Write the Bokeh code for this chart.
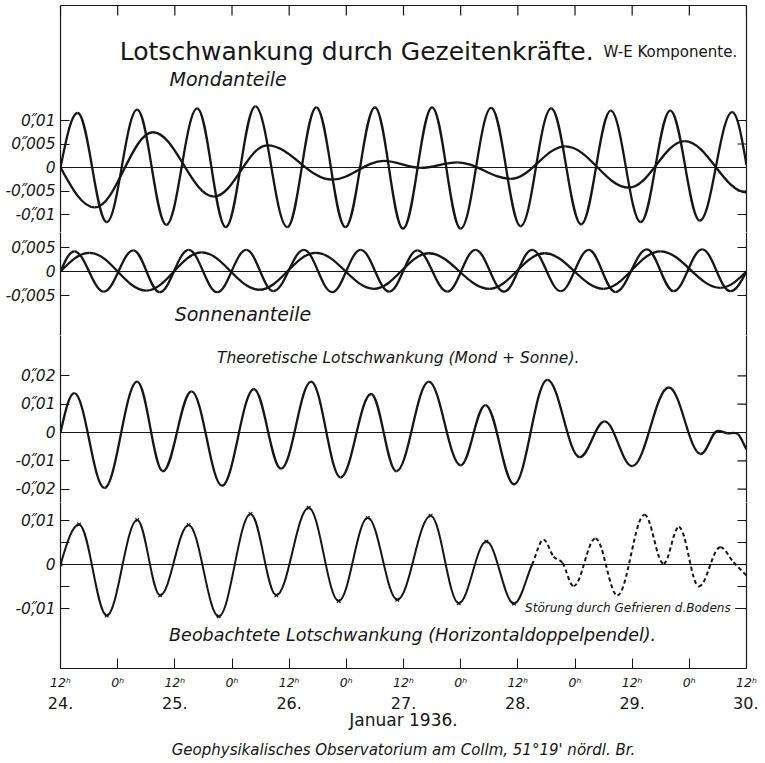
import numpy as np
from bokeh.plotting import figure
from bokeh.layouts import column
from bokeh.models import Range1d, LinearAxis, FixedTicker, Span, Label, Title, ColumnDataSource
from bokeh.embed import file_html
from bokeh.resources import INLINE

# ---------------- data (x = hours after 24 Jan 1936, 12h; values in arc seconds) ----------------
# Mondanteile: semidiurnal and diurnal lunar parts (extrema)
moon_sd_h = [0, 3.6, 9.7, 16.1, 22.2, 28.7, 34.7, 40.9, 47.6, 53.7, 59.8, 66.0, 71.9, 78.0, 84.0,
             90.4, 96.6, 103.0, 109.3, 115.5, 121.8, 128.0, 134.2, 141.0, 144.0]
moon_sd_v = [0.0, 0.0116, -0.0116, 0.0123, -0.0122, 0.0126, -0.0127, 0.0130, -0.0127, 0.0128, -0.0127,
             0.0128, -0.0130, 0.0128, -0.0130, 0.0127, -0.0125, 0.0126, -0.0121, 0.0121, -0.0116,
             0.0121, -0.0113, 0.0118, 0.0005]
moon_d_h = [0, 7.2, 19.4, 32.2, 43.4, 57.0, 67.9, 75.6, 83.3, 94.5, 106.0, 119.3, 131.0, 144.0]
moon_d_v = [0.0, -0.0085, 0.0075, -0.0062, 0.0047, -0.0026, 0.0014, -0.0001, 0.0011, -0.0024,
            0.0045, -0.0043, 0.0056, -0.0053]

# Sonnenanteile: semidiurnal and diurnal solar parts
sun_sd_h = [0, 2.9, 9.1, 15.3, 20.8, 26.9, 32.9, 39.0, 44.7, 51.1, 57.0, 63.0, 69.0, 74.9, 81.2,
            87.1, 93.1, 99.0, 105.0, 110.9, 116.5, 123.1, 128.7, 134.7, 140.6, 144.0]
sun_sd_v = [0.0, 0.0042, -0.0042, 0.0044, -0.0043, 0.0045, -0.0043, 0.0045, -0.0041, 0.0045, -0.0043,
            0.0045, -0.0042, 0.0044, -0.0042, 0.0045, -0.0042, 0.0045, -0.0041, 0.0045, -0.0043,
            0.0046, -0.0041, 0.0046, -0.0041, 0.0]
sun_d_h = [0, 6.1, 18.0, 29.6, 41.7, 53.6, 65.8, 77.3, 90.0, 101.6, 114.0, 125.9, 138.5, 144.0]
sun_d_v = [0.0, 0.0039, -0.0040, 0.0040, -0.0038, 0.0039, -0.0036, 0.0038, -0.0036, 0.0038,
           -0.0036, 0.0042, -0.0034, 0.0]

# Theoretische Lotschwankung (Mond + Sonne)
theo_h = [0, 2.9, 9.2, 16.1, 21.5, 27.5, 33.9, 40.6, 46.3, 52.6, 58.8, 65.2, 70.5, 77.3, 84.0,
          89.2, 95.2, 102.2, 109.0, 114.2, 120.0, 127.7, 134.4, 138.0, 140.0, 142.2, 144.0]
theo_v = [0.0, 0.0139, -0.0196, 0.0180, -0.0137, 0.0145, -0.0188, 0.0153, -0.0128, 0.0180, -0.0159,
          0.0136, -0.0137, 0.0180, -0.0116, 0.0097, -0.0183, 0.0186, -0.0087, 0.0039, -0.0119,
          0.0159, -0.0076, 0.0006, -0.0003, -0.0006, -0.0060]

# Beobachtete Lotschwankung (Horizontaldoppelpendel); dashed after obs_split (ground frost)
obs_h = [0, 3.9, 9.7, 16.1, 20.9, 26.9, 33.2, 39.9, 45.3, 52.1, 58.4, 64.5, 70.7, 77.7, 83.6, 89.4,
         95.2, 99.0, 101.4, 103.5, 105.4, 107.7, 112.3, 116.9, 122.6, 126.6, 129.8, 134.0, 138.5,
         141.3, 144.0]
obs_v = [0.0, 0.0091, -0.0116, 0.0101, -0.0070, 0.0090, -0.0118, 0.0115, -0.0070, 0.0129, -0.0083,
         0.0106, -0.0080, 0.0111, -0.0088, 0.0052, -0.0089, 0.0, 0.0056, 0.0018, 0.0003, -0.0049,
         0.0059, -0.0070, 0.0113, 0.0002, 0.0085, -0.0050, 0.0039, 0.0005, -0.0025]
obs_split = 99.0

# axes
hour_ticks = [0, 12, 24, 36, 48, 60, 72, 84, 96, 108, 120, 132, 144]
hour_labels = ["12ʰ", "0ʰ", "12ʰ", "0ʰ", "12ʰ", "0ʰ", "12ʰ", "0ʰ", "12ʰ", "0ʰ", "12ʰ", "0ʰ", "12ʰ"]
date_ticks = [0, 24, 48, 72, 96, 120, 144]
date_labels = ["24.", "25.", "26.", "27.", "28.", "29.", "30."]

p1_ticks = [0.01, 0.005, 0.0, -0.005, -0.01]
p1_labels = ["0,\u030b01", "0,\u030b005", "0", "-0,\u030b005", "-0,\u030b01"]
p2_ticks = [0.005, 0.0, -0.005]
p2_labels = ["0,\u030b005", "0", "-0,\u030b005"]
p3_ticks = [0.02, 0.01, 0.0, -0.01, -0.02]
p3_labels = ["0,\u030b02", "0,\u030b01", "0", "-0,\u030b01", "-0,\u030b02"]
p4_ticks = [0.01, 0.005, 0.0, -0.005, -0.01]
p4_label_ticks = [0.01, 0.0, -0.01]
p4_labels = ["0,\u030b01", "0", "-0,\u030b01"]

# ---------------- style / layout ----------------
FONT = "DejaVu Sans"
INK = "#161616"
FRAME_W = 686
ML, MR = 60, 12
PX_PER_H = FRAME_W / 144.0
TICK_PX = 9

# panel geometry (page px): top, bottom, zero line, px per unit
GEOM = {
    1: (5, 232, 167, 4700.0),
    2: (232, 335, 271, 4800.0),
    3: (335, 502, 432, 2830.0),
    4: (502, 668, 564, 4400.0),
}


def segments(xs, ys):
    """Cubic Bezier pieces through the read points (horizontal tangents at extrema)."""
    x = np.asarray(xs, float)
    y = np.asarray(ys, float)
    n = len(x)
    ext = np.zeros(n, bool)
    m = np.zeros(n)
    for k in range(1, n - 1):
        if (y[k] - y[k - 1]) * (y[k + 1] - y[k]) <= 0:
            ext[k] = True
        else:
            m[k] = (y[k + 1] - y[k - 1]) / (x[k + 1] - x[k - 1])
    for k, j in ((0, 1), (n - 1, n - 2)):
        sec = (y[j] - y[k]) / (x[j] - x[k])
        if abs(y[k]) < 0.25 * abs(y[j]):
            m[k] = sec * np.pi / 2
        elif ext[j] and y[k] * y[j] < 0:
            m[k] = 0.0
            ext[k] = True
        else:
            m[k] = sec
    dx = np.diff(x)
    f0 = np.where(ext[:-1], 0.3642, 1 / 3)
    f1 = np.where(ext[1:], 0.3642, 1 / 3)
    return dict(x0=x[:-1], y0=y[:-1], x1=x[1:], y1=y[1:],
                cx0=x[:-1] + f0 * dx, cy0=y[:-1] + m[:-1] * f0 * dx,
                cx1=x[1:] - f1 * dx, cy1=y[1:] - m[1:] * f1 * dx)


def add_curve(p, xs, ys, width=2.3, split=None):
    d = segments(xs, ys)
    if split is None:
        parts = [(np.ones(len(d["x0"]), bool), "solid")]
    else:
        a = d["x0"] < split
        parts = [(a, "solid"), (~a, "4 3")]
    for mask, ld in parts:
        sub = {k: v[mask] for k, v in d.items()}
        p.bezier(x0="x0", y0="y0", x1="x1", y1="y1", cx0="cx0", cy0="cy0", cx1="cx1", cy1="cy1",
                 source=ColumnDataSource(sub), line_color=INK, line_width=width, line_dash=ld)


def frame_axis():
    # plain frame line (no ticks, no labels); ticks are drawn as segments
    return LinearAxis(ticker=FixedTicker(ticks=[]), major_tick_in=0, major_tick_out=0,
                      minor_tick_line_color=None, axis_line_color=INK, axis_line_width=1.2,
                      major_label_standoff=0)


def make_panel(k, ticks, label_ticks, labels):
    top, bot, zero, ppu = GEOM[k]
    p = figure(frame_width=FRAME_W, frame_height=bot - top, x_range=Range1d(0, 144),
               y_range=Range1d(-(bot - zero) / ppu, (zero - top) / ppu),
               output_backend="svg", toolbar_location=None, x_axis_location=None,
               y_axis_location=None, min_border_left=ML, min_border_right=MR,
               min_border_top=top if k == 1 else 0, min_border_bottom=0, outline_line_color=None,
               background_fill_color="white", border_fill_color="white")
    p.grid.visible = False
    left = LinearAxis(ticker=FixedTicker(ticks=ticks),
                      major_label_overrides={t: "" for t in ticks} | dict(zip(label_ticks, labels)),
                      major_tick_in=TICK_PX, major_tick_out=0, minor_tick_line_color=None,
                      axis_line_color=INK, major_tick_line_color=INK, axis_line_width=1.2,
                      major_label_standoff=5, major_label_text_font=FONT,
                      major_label_text_font_style="italic", major_label_text_font_size="15.5px",
                      major_label_text_color=INK)
    p.add_layout(left, "left")
    p.add_layout(frame_axis(), "right")
    # inner ticks on the right frame, at the same values as on the left
    p.segment(x0=[144.0] * len(ticks), x1=[144.0 - TICK_PX / PX_PER_H] * len(ticks),
              y0=ticks, y1=ticks, line_color=INK, line_width=1.2)
    p.add_layout(Span(location=0, dimension="width", line_color=INK, line_width=1))
    return p, ppu


def label(p, x, y, text, size, style="italic", align="center"):
    p.add_layout(Label(x=x, y=y, text=text, text_font=FONT, text_font_size=size,
                       text_font_style=style, text_align=align, text_baseline="middle",
                       text_color=INK))


# ---- panel 1: Mondanteile ----
p1, ppu1 = make_panel(1, p1_ticks, p1_ticks, p1_labels)
p1.add_layout(frame_axis(), "above")
y_top = p1.y_range.end
p1.segment(x0=hour_ticks, x1=hour_ticks, y0=[y_top] * len(hour_ticks),
           y1=[y_top - 10 / ppu1] * len(hour_ticks), line_color=INK, line_width=1.2)
add_curve(p1, moon_sd_h, moon_sd_v)
add_curve(p1, moon_d_h, moon_d_v)
label(p1, 111.9, 0.0247, "Lotschwankung durch Gezeitenkräfte.", "25px", style="normal", align="right")
label(p1, 114.0, 0.0245, "W-E Komponente.", "15px", style="normal", align="left")
label(p1, 35.2, 0.0189, "Mondanteile", "19px")

# ---- panel 2: Sonnenanteile ----
p2, _ = make_panel(2, p2_ticks, p2_ticks, p2_labels)
add_curve(p2, sun_sd_h, sun_sd_v)
add_curve(p2, sun_d_h, sun_d_v)
label(p2, 38.3, -0.00875, "Sonnenanteile", "19px")

# ---- panel 3: theoretical ----
p3, _ = make_panel(3, p3_ticks, p3_ticks, p3_labels)
add_curve(p3, theo_h, theo_v)
label(p3, 71.4, 0.0265, "Theoretische Lotschwankung  (Mond + Sonne).", "15.5px")

# ---- panel 4: observed ----
p4, _ = make_panel(4, p4_ticks, p4_label_ticks, p4_labels)
add_curve(p4, obs_h, obs_v, width=2.0, split=obs_split)
oh = np.asarray(obs_h)
ov = np.asarray(obs_v)
sel = oh < obs_split
p4.scatter(oh[sel], ov[sel], marker="x", size=5, line_width=1.2, line_color=INK)
label(p4, 144, -0.0098, "Störung durch Gefrieren d.Bodens —", "12px", align="right")
label(p4, 74.5, -0.0160, "Beobachtete Lotschwankung  (Horizontaldoppelpendel).", "17.5px")

hours_ax = LinearAxis(ticker=FixedTicker(ticks=hour_ticks),
                      major_label_overrides=dict(zip(hour_ticks, hour_labels)),
                      major_tick_in=10, major_tick_out=0, minor_tick_line_color=None,
                      axis_line_color=INK, major_tick_line_color=INK, axis_line_width=1.2,
                      major_label_standoff=6, major_label_text_font=FONT,
                      major_label_text_font_style="italic", major_label_text_font_size="12.5px",
                      major_label_text_color=INK)
p4.add_layout(hours_ax, "below")
dates_ax = LinearAxis(ticker=FixedTicker(ticks=date_ticks),
                      major_label_overrides=dict(zip(date_ticks, date_labels)),
                      major_tick_in=0, major_tick_out=0, minor_tick_line_color=None,
                      axis_line_color=None, major_tick_line_color=None,
                      major_label_standoff=4, major_label_text_font=FONT,
                      major_label_text_font_size="16px", major_label_text_color=INK,
                      axis_label="Januar 1936.", axis_label_standoff=-2,
                      axis_label_text_font=FONT, axis_label_text_font_size="17px",
                      axis_label_text_font_style="normal", axis_label_text_color=INK)
p4.add_layout(dates_ax, "below")
p4.add_layout(Title(text="Geophysikalisches Observatorium am Collm, 51°19' nördl. Br.",
                    align="center", text_font=FONT, text_font_size="15px",
                    text_font_style="italic", text_color=INK, standoff=12), "below")

layout = column(p1, p2, p3, p4, spacing=0)
open("out.html", "w").write(file_html(layout, INLINE))
